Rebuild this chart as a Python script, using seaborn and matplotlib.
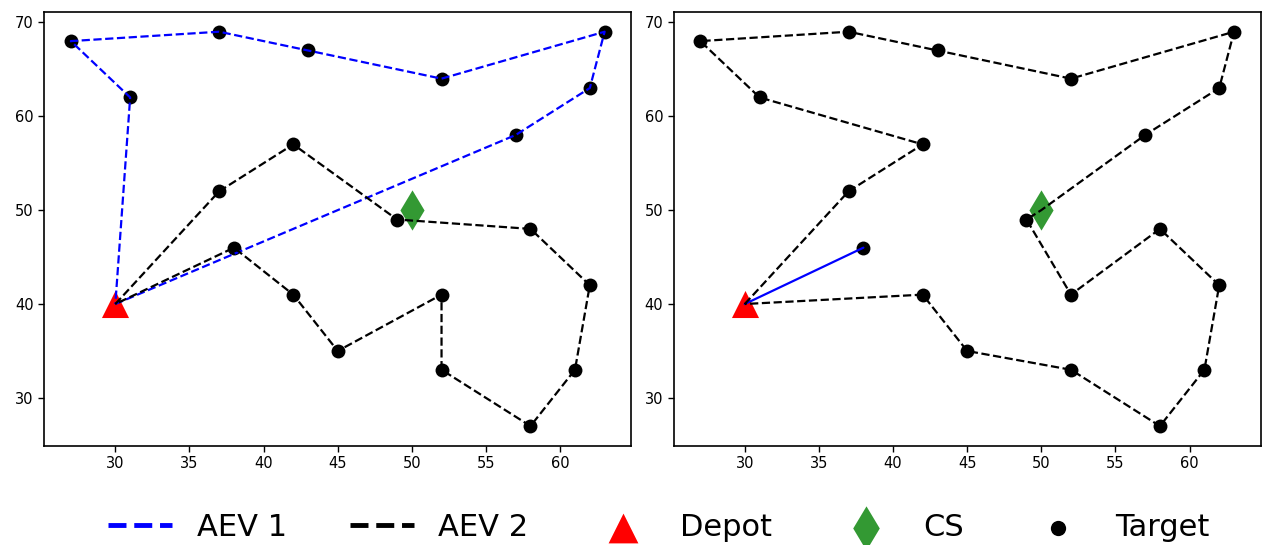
import matplotlib
matplotlib.use("Agg")
import matplotlib.pyplot as plt
import seaborn as sns

sns.set_style("white")
plt.rcParams['font.family'] = ['DejaVu Sans']

# Depot and charging station
depot = (30, 40)
cs = (50, 50)

# Target locations
target_x = [27, 31, 37, 43, 52, 63, 62, 57, 37, 42, 49, 58, 62, 61, 58, 52, 52, 45, 42, 38]
target_y = [68, 62, 69, 67, 64, 69, 63, 58, 52, 57, 49, 48, 42, 33, 27, 33, 41, 35, 41, 46]

# Plan A routes
a_aev1_x = [30, 57, 62, 63, 52, 43, 37, 27, 31, 30]
a_aev1_y = [40, 58, 63, 69, 64, 67, 69, 68, 62, 40]
a_aev2_x = [30, 37, 42, 49, 58, 62, 61, 58, 52, 52, 45, 42, 38, 30]
a_aev2_y = [40, 52, 57, 49, 48, 42, 33, 27, 33, 41, 35, 41, 46, 40]

# Plan B routes
b_aev1_x = [30, 38]
b_aev1_y = [40, 46]
b_aev2_x = [30, 37, 42, 31, 27, 37, 43, 52, 63, 62, 57, 50, 49, 52, 58, 62, 61, 58, 52, 45, 42, 30]
b_aev2_y = [40, 52, 57, 62, 68, 69, 67, 64, 69, 63, 58, 50, 49, 41, 48, 42, 33, 27, 33, 35, 41, 40]

fig, axes = plt.subplots(1, 2, figsize=(12.62, 5.45), dpi=100)
fig.subplots_adjust(left=0.035, right=0.999, top=0.978, bottom=0.182, wspace=0.072)

def draw(ax, r1x, r1y, r1style, r2x, r2y):
    sns.lineplot(x=r1x, y=r1y, ax=ax, sort=False, estimator=None, color="blue",
                 linestyle=r1style, linewidth=1.6, zorder=3, label="AEV 1")
    sns.lineplot(x=r2x, y=r2y, ax=ax, sort=False, estimator=None, color="black",
                 linestyle="--", linewidth=1.6, zorder=3, label="AEV 2")
    sns.scatterplot(x=[depot[0]], y=[depot[1]], ax=ax, marker="^", s=380, color="red",
                    edgecolor="red", linewidth=0, zorder=2, label="Depot")
    sns.scatterplot(x=[cs[0]], y=[cs[1]], ax=ax, marker="d", s=420, color="#339933",
                    edgecolor="#339933", linewidth=0, zorder=1.5, label="CS")
    sns.scatterplot(x=target_x, y=target_y, ax=ax, marker="o", s=100, color="black",
                    edgecolor="black", linewidth=0, zorder=2, label="Target")
    ax.set_xticks([30, 35, 40, 45, 50, 55, 60])
    ax.set_yticks([30, 40, 50, 60, 70])
    ax.tick_params(axis="both", labelsize=10.5, labelcolor="black", color="black",
                   direction="out", length=4, width=1, left=True, bottom=True)
    for sp in ax.spines.values():
        sp.set_color("black")
        sp.set_linewidth(1.2)

draw(axes[0], a_aev1_x, a_aev1_y, "--", a_aev2_x, a_aev2_y)
draw(axes[1], b_aev1_x, b_aev1_y, "-", b_aev2_x, b_aev2_y)

handles, labels = axes[0].get_legend_handles_labels()
for ax in axes:
    if ax.get_legend() is not None:
        ax.get_legend().remove()

leg = fig.legend(handles, labels, loc="lower center", ncol=5, frameon=False,
                 fontsize=22, bbox_to_anchor=(0.522, -0.045), handlelength=2.1,
                 columnspacing=2.05, handletextpad=0.8, labelcolor="black",
                 markerscale=1.1)
for h in leg.legend_handles[:2]:
    h.set_linewidth(3.5)

fig.savefig("out.png", dpi=100)
